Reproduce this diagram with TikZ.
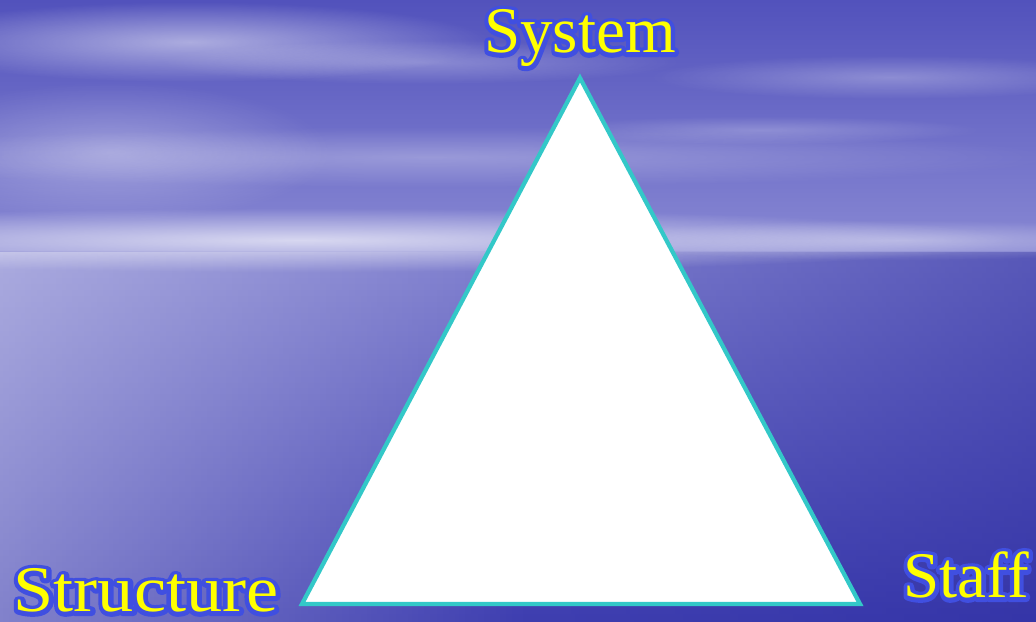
\documentclass[tikz,border=0pt]{standalone}
\usepackage{fontspec}
\setmainfont{Liberation Serif}
\usetikzlibrary{fadings}
\definecolor{skytop}{HTML}{5252BC}
\definecolor{skylow}{HTML}{8A8AD4}
\definecolor{seatop}{HTML}{7E7ECE}
\definecolor{seabot}{HTML}{3E3EB0}
\definecolor{seadeep}{HTML}{2A2A9E}
\definecolor{edge}{HTML}{33C8C8}
\definecolor{label}{HTML}{FFFF00}
% blue rim drawn as stroked glyphs under the yellow ones
\newcommand\glowtext[1]{\rlap{\special{pdf:literal direct q 1 Tr 2.4 w 1 j 0.25 0.31 0.88 RG}#1\special{pdf:literal direct Q}}#1}
\tikzfading[name=soft,inner color=transparent!10,outer color=transparent!100]
\tikzset{cloud/.style={fill=white,path fading=soft},
 tag/.style={anchor=base,inner sep=0pt,text=label,font=\fontsize{18.5pt}{20pt}\selectfont},
 tri/.style={draw=edge,fill=white,line width=1.2pt}}
\begin{document}
\begin{tikzpicture}[x=0.01cm,y=0.01cm]
\useasboundingbox (0,0) rectangle (1036,622);
% sky and sea
\shade[top color=skytop,bottom color=skylow] (0,362) rectangle (1036,622);
\shade[top color=seatop,bottom color=seabot] (0,0) rectangle (1036,370);
\fill[white,path fading=east,opacity=0.35] (0,0) rectangle (520,370);
\fill[seadeep,path fading=west,opacity=0.45] (520,0) rectangle (1036,370);
% clouds
\fill[cloud,opacity=0.55] (190,580) ellipse (300 and 40);
\fill[cloud,opacity=0.30] (420,560) ellipse (260 and 22);
\fill[cloud,opacity=0.35] (110,470) ellipse (220 and 70);
\fill[cloud,opacity=0.30] (430,465) ellipse (620 and 30);
\fill[cloud,opacity=0.30] (890,545) ellipse (240 and 22);
\fill[cloud,opacity=0.25] (760,492) ellipse (220 and 14);
\fill[cloud,opacity=0.75] (300,382) ellipse (720 and 32);
\fill[cloud,opacity=0.40] (900,382) ellipse (320 and 20);
% triangle
\coordinate (top) at (580,544);
\coordinate (left) at (302,18);
\coordinate (right) at (860,18);
\filldraw[tri] (top) -- (left) -- (right) -- cycle;
% labels
\node[tag] (system) at (580,569) {\glowtext{System}};
\node[tag,xscale=1.11,transform shape] (structure) at (146,10) {\glowtext{Structure}};
\node[tag] (staff) at (966,24) {\glowtext{Staff}};
\end{tikzpicture}
\end{document}
